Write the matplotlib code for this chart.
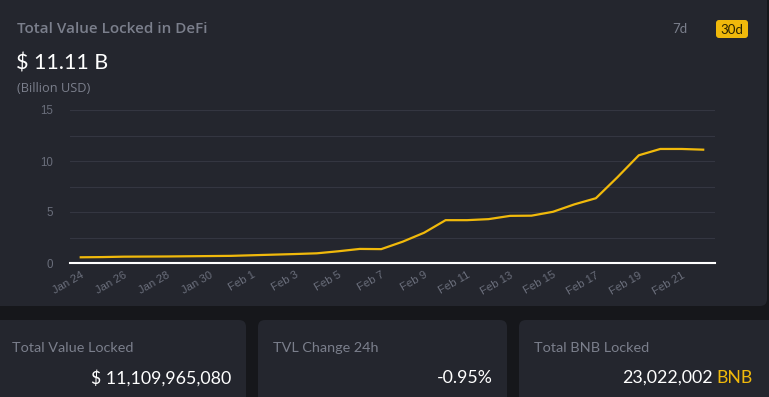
import matplotlib
matplotlib.use('Agg')
import matplotlib.pyplot as plt
from matplotlib.patches import FancyBboxPatch
import numpy as np

# daily TVL, Jan 24 - Feb 22 (billion USD)
dates = ['Jan 24', 'Jan 25', 'Jan 26', 'Jan 27', 'Jan 28', 'Jan 29', 'Jan 30', 'Jan 31',
         'Feb 1', 'Feb 2', 'Feb 3', 'Feb 4', 'Feb 5', 'Feb 6', 'Feb 7', 'Feb 8', 'Feb 9',
         'Feb 10', 'Feb 11', 'Feb 12', 'Feb 13', 'Feb 14', 'Feb 15', 'Feb 16', 'Feb 17',
         'Feb 18', 'Feb 19', 'Feb 20', 'Feb 21', 'Feb 22']
tvl = [0.56, 0.58, 0.62, 0.63, 0.64, 0.66, 0.68, 0.70, 0.76, 0.82, 0.88, 0.95, 1.15,
       1.38, 1.36, 2.09, 2.97, 4.20, 4.20, 4.30, 4.62, 4.64, 5.02, 5.75, 6.35, 8.40,
       10.56, 11.18, 11.18, 11.11]
y_ticks = [0, 5, 10, 15]

headline = '$ 11.11 B'
cards = [('Total Value Locked', '$ 11,109,965,080', None),
         ('TVL Change 24h', '-0.95%', None),
         ('Total BNB Locked', '23,022,002', 'BNB')]

BG = '#16171b'
CARD = '#24262e'
GREY = '#7b7f8c'
TICK = '#6a6e7b'
YELLOW = '#f0b90b'
GRID = '#343641'

W, H = 769, 397
fig = plt.figure(figsize=(W / 100, H / 100), dpi=100)
fig.patch.set_facecolor(BG)

# background layer in pixel units for the cards and labels
bg = fig.add_axes([0, 0, 1, 1])
bg.set_xlim(0, W)
bg.set_ylim(H, 0)
bg.axis('off')

def card(x0, y0, x1, y1):
    bg.add_patch(FancyBboxPatch((x0, y0), x1 - x0, y1 - y0,
                                boxstyle='round,pad=0,rounding_size=7',
                                fc=CARD, ec='none'))

card(-20, -20, 767, 306)
card(-20, 320, 246, 420)
card(258, 320, 507, 420)
card(519, 320, 790, 420)

bg.text(17, 29, 'Total Value Locked in DeFi', color=GREY, fontsize=11,
        family='Open Sans', weight='semibold', va='center', ha='left')
bg.text(16, 63, headline, color='white', fontsize=15.5, family='Lato',
        va='center', ha='left')
bg.text(17, 88, '(Billion USD)', color=GREY, fontsize=9.2, family='Open Sans',
        va='center', ha='left')

bg.text(680, 29, '7d', color=GREY, fontsize=9.5, family='Lato',
        va='center', ha='center')
bg.add_patch(FancyBboxPatch((716, 20), 32, 18,
                            boxstyle='round,pad=0,rounding_size=3',
                            fc=YELLOW, ec='none'))
bg.text(732, 29.5, '30d', color='#2a2200', fontsize=9.5, family='Lato',
        va='center', ha='center')

renderer = fig.canvas.get_renderer()
lefts = [12, 273, 534]
rights = [231, 493, 753]
for (label, value, unit), lx, rx in zip(cards, lefts, rights):
    bg.text(lx, 348, label, color=GREY, fontsize=10.4, family='Lato',
            va='center', ha='left')
    if unit:
        u = bg.text(rx, 378, unit, color=YELLOW, fontsize=12.8, family='Lato',
                    va='center', ha='right')
        uw = u.get_window_extent(renderer).width
        bg.text(rx - uw - 4, 378, value, color='white', fontsize=12.8,
                family='Lato', va='center', ha='right')
    else:
        bg.text(rx, 378, value, color='white', fontsize=12.8, family='Lato',
                va='center', ha='right')

# chart
ax = fig.add_axes([70 / W, 1 - 263 / H, 645 / W, 153 / H])
ax.patch.set_alpha(0)
x = np.arange(len(dates))
ax.plot(x, tvl, color=YELLOW, lw=1.6, solid_joinstyle='round', zorder=3)

ax.set_xlim(-0.5, len(dates) - 0.45)
ax.set_ylim(0, 15)
ax.set_yticks(y_ticks)
ax.set_yticks(np.arange(0, 15.1, 2.5), minor=True)
ax.set_xticks(x[::2])
ax.set_xticklabels(dates[::2], rotation=30, ha='right', va='top',
                   rotation_mode='anchor')
ax.grid(True, which='both', axis='y', color=GRID, lw=0.8)
ax.set_axisbelow(True)

for s in ['top', 'right', 'left']:
    ax.spines[s].set_visible(False)
ax.spines['bottom'].set_color('white')
ax.spines['bottom'].set_linewidth(1.5)
ax.tick_params(axis='both', which='both', length=0)
ax.tick_params(axis='y', pad=12, labelcolor=TICK, labelsize=8.3)
ax.tick_params(axis='x', pad=5, labelcolor=TICK, labelsize=8.2)
for t in ax.get_xticklabels() + ax.get_yticklabels():
    t.set_family('Liberation Sans')

fig.savefig('out.png', dpi=100, facecolor=BG)
